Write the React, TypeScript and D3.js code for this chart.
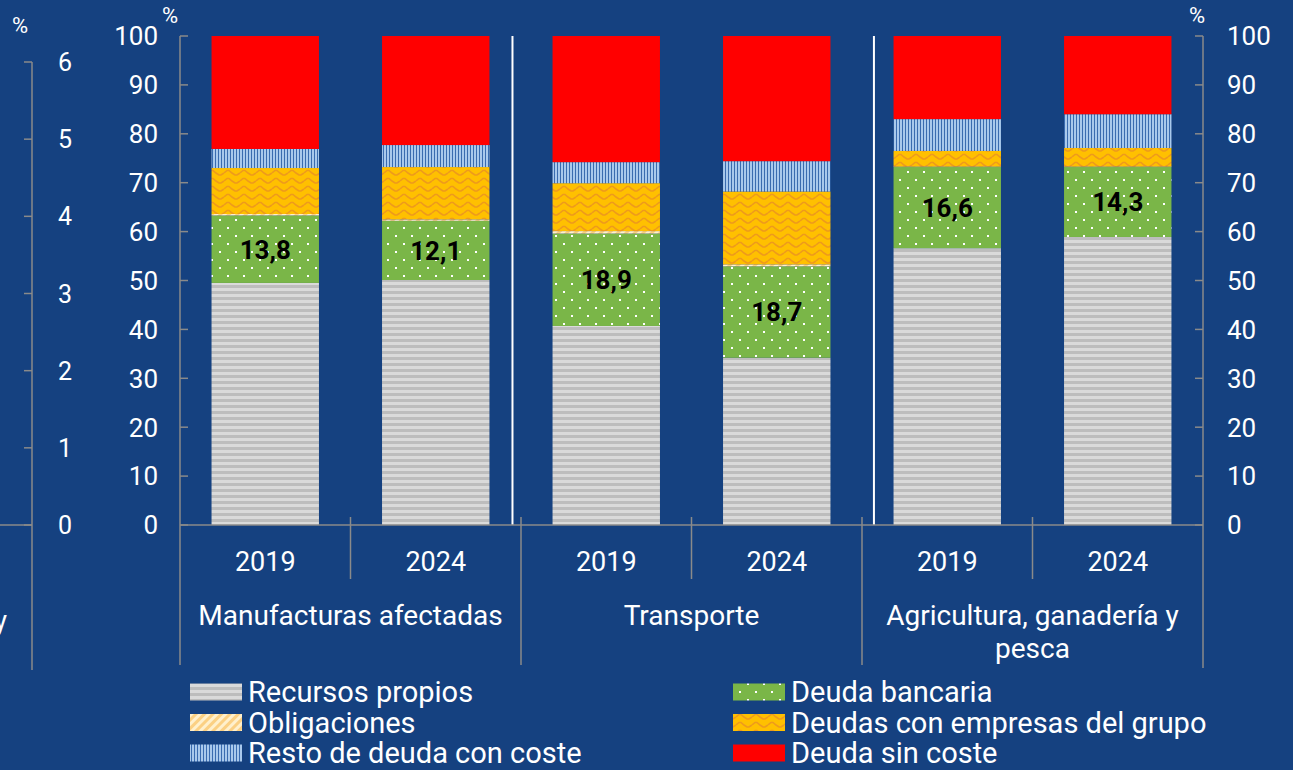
import React from "react";
import * as d3 from "d3";

const categories = ["M2019", "M2024", "T2019", "T2024", "A2019", "A2024"];
const yearLabels = ["2019", "2024", "2019", "2024", "2019", "2024"];
const groupLabels = [["Manufacturas afectadas"], ["Transporte"], ["Agricultura, ganadería y", "pesca"]];

const recursosPropios = [49.5, 50.1, 40.7, 34.2, 56.6, 58.9];
const deudaBancaria = [13.8, 12.1, 18.9, 18.7, 16.6, 14.3];
const obligaciones = [0.3, 0.3, 0.5, 0.4, 0.1, 0.1];
const deudasGrupo = [9.4, 10.7, 9.8, 14.9, 3.2, 3.8];
const restoDeuda = [3.9, 4.5, 4.3, 6.2, 6.5, 6.9];
const deudaSinCoste = [23.1, 22.3, 25.8, 25.6, 17.0, 16.0];

const bancariaLabels = ["13,8", "12,1", "18,9", "18,7", "16,6", "14,3"];

const yTicks = [0, 10, 20, 30, 40, 50, 60, 70, 80, 90, 100];
const leftChartTicks = [0, 1, 2, 3, 4, 5, 6];
const separatorPositions = [1.95, 4.07];

const seriesKeys = ["recursos", "bancaria", "oblig", "grupo", "resto", "sincoste"];
const seriesNames = [
  "Recursos propios",
  "Deuda bancaria",
  "Obligaciones",
  "Deudas con empresas del grupo",
  "Resto de deuda con coste",
  "Deuda sin coste",
];
const seriesFills = [
  "url(#pat-recursos)",
  "url(#pat-bancaria)",
  "url(#pat-oblig)",
  "url(#pat-grupo)",
  "url(#pat-resto)",
  "#ff0000",
];
const legendOrder = [0, 2, 4, 1, 3, 5];

const W = 1293;
const H = 770;
const BG = "#154180";
const AXIS = "#8a8a8a";
const FONT = "Roboto, 'Noto Sans', sans-serif";

export default function App() {
  const x0 = 180;
  const x1 = 1203;
  const yTop = 36;
  const yBot = 525;

  const y = d3.scaleLinear().domain([0, 100]).range([yBot, yTop]);
  const xBand = d3.scaleBand().domain(categories).range([x0, x1]).paddingInner(0.37).paddingOuter(0.185);
  const xIdx = d3.scaleLinear().domain([0, categories.length]).range([x0, x1]);
  const yLeft = d3.scaleLinear().domain([0, 6]).range([yBot, 62]);

  const table = categories.map((c, i) => ({
    cat: c,
    recursos: recursosPropios[i],
    bancaria: deudaBancaria[i],
    oblig: obligaciones[i],
    grupo: deudasGrupo[i],
    resto: restoDeuda[i],
    sincoste: deudaSinCoste[i],
  }));
  const stacked = d3.stack().keys(seriesKeys)(table as any);

  const groupBounds = [0, 2, 4, 6];

  return (
    <svg
      width={W}
      height={H}
      style={{ position: "fixed", left: 0, top: 0, display: "block" }}
      fontFamily={FONT}
    >
      <defs>
        <pattern id="pat-recursos" width="6" height="6" patternUnits="userSpaceOnUse">
          <rect width="6" height="6" fill="#dadada" />
          <rect y="3" width="6" height="3" fill="#bdbdbd" />
        </pattern>
        <pattern id="pat-bancaria" width="16" height="16" patternUnits="userSpaceOnUse">
          <rect width="16" height="16" fill="#7ab648" />
          <rect x="3" y="3" width="2" height="2" fill="#ffffff" />
          <rect x="11" y="11" width="2" height="2" fill="#ffffff" />
        </pattern>
        <pattern id="pat-oblig" width="6" height="6" patternUnits="userSpaceOnUse" patternTransform="rotate(45)">
          <rect width="6" height="6" fill="#fff0cc" />
          <rect width="3" height="6" fill="#fbd083" />
        </pattern>
        <pattern id="pat-grupo" width="16" height="8" patternUnits="userSpaceOnUse">
          <rect width="16" height="8" fill="#ffc000" />
          <path d="M0,5 L3,2.5 L5,2.5 L8,5 L11,7 L13,7 L16,5" fill="none" stroke="#ee9a1c" strokeWidth="1.6" />
        </pattern>
        <pattern id="pat-resto" width="3" height="3" patternUnits="userSpaceOnUse">
          <rect width="3" height="3" fill="#a9c9ec" />
          <rect x="2" width="1" height="3" fill="#3a6cb0" />
        </pattern>
      </defs>

      <rect width={W} height={H} fill={BG} />

      {/* Partial chart on the left */}
      <text x={20} y={33} fill="#fff" fontSize={22} textAnchor="middle">%</text>
      <line x1={32} x2={32} y1={yLeft(6)} y2={670} stroke={AXIS} strokeWidth={1.5} />
      <line x1={0} x2={32} y1={yBot} y2={yBot} stroke={AXIS} strokeWidth={1.5} />
      {leftChartTicks.map((t) => (
        <g key={"lt" + t}>
          <line x1={24} x2={32} y1={yLeft(t)} y2={yLeft(t)} stroke={AXIS} strokeWidth={1.5} />
          <text x={65} y={yLeft(t)} dy="0.36em" fill="#fff" fontSize={25} textAnchor="middle">
            {t}
          </text>
        </g>
      ))}
      <text x={7} y={620} dy="0.36em" fill="#fff" fontSize={27} textAnchor="end">y</text>

      {/* Bars */}
      {stacked.map((s, si) => (
        <g key={seriesKeys[si]}>
          {s.map((d, i) => {
            const h = y(d[0]) - y(d[1]);
            if (h <= 0) return null;
            return (
              <rect
                key={i}
                x={xBand(categories[i])}
                y={y(d[1])}
                width={xBand.bandwidth()}
                height={h}
                fill={seriesFills[si]}
              />
            );
          })}
        </g>
      ))}

      {/* value labels on Deuda bancaria */}
      {stacked[1].map((d, i) => (
        <text
          key={"vl" + i}
          x={(xBand(categories[i]) as number) + xBand.bandwidth() / 2}
          y={(y(d[0]) + y(d[1])) / 2}
          dy="0.36em"
          fontSize={26}
          fontWeight="bold"
          fill="#000"
          textAnchor="middle"
        >
          {bancariaLabels[i]}
        </text>
      ))}

      {/* white separators */}
      {separatorPositions.map((p, i) => (
        <line key={"sep" + i} x1={xIdx(p)} x2={xIdx(p)} y1={yTop} y2={yBot} stroke="#fff" strokeWidth={2} />
      ))}

      {/* Axes */}
      <line x1={x0} x2={x1} y1={yBot} y2={yBot} stroke={AXIS} strokeWidth={1.5} />
      <line x1={x0} x2={x0} y1={yTop} y2={665} stroke={AXIS} strokeWidth={1.5} />
      <line x1={x1} x2={x1} y1={yTop} y2={668} stroke={AXIS} strokeWidth={1.5} />
      {yTicks.map((t) => (
        <g key={"yt" + t}>
          <line x1={x0} x2={x0 + 8} y1={y(t)} y2={y(t)} stroke={AXIS} strokeWidth={1.5} />
          <line x1={x1 - 8} x2={x1} y1={y(t)} y2={y(t)} stroke={AXIS} strokeWidth={1.5} />
          <text x={x0 - 22} y={y(t)} dy="0.36em" fill="#fff" fontSize={26} textAnchor="end">
            {t}
          </text>
          <text x={x1 + 24} y={y(t)} dy="0.36em" fill="#fff" fontSize={26} textAnchor="start">
            {t}
          </text>
        </g>
      ))}
      <text x={170} y={15} dy="0.36em" fill="#fff" fontSize={22} textAnchor="middle">%</text>
      <text x={1197} y={15} dy="0.36em" fill="#fff" fontSize={22} textAnchor="middle">%</text>

      {/* category separators */}
      {d3.range(1, categories.length).map((k) => {
        const isGroup = groupBounds.includes(k);
        return (
          <line
            key={"cs" + k}
            x1={xIdx(k)}
            x2={xIdx(k)}
            y1={517}
            y2={isGroup ? 665 : 579}
            stroke={AXIS}
            strokeWidth={1.5}
          />
        );
      })}

      {/* year labels */}
      {categories.map((c, i) => (
        <text
          key={"yl" + i}
          x={(xBand(c) as number) + xBand.bandwidth() / 2}
          y={561}
          dy="0.36em"
          fill="#fff"
          fontSize={27}
          textAnchor="middle"
        >
          {yearLabels[i]}
        </text>
      ))}

      {/* group labels */}
      {groupLabels.map((lines, gi) => (
        <text
          key={"gl" + gi}
          x={(xIdx(groupBounds[gi]) + xIdx(groupBounds[gi + 1])) / 2}
          y={615}
          fill="#fff"
          fontSize={28}
          textAnchor="middle"
        >
          {lines.map((ln, li) => (
            <tspan key={li} x={(xIdx(groupBounds[gi]) + xIdx(groupBounds[gi + 1])) / 2} y={615 + li * 33} dy="0.36em">
              {ln}
            </tspan>
          ))}
        </text>
      ))}

      {/* legend */}
      {legendOrder.map((si, k) => {
        const col = Math.floor(k / 3);
        const row = k % 3;
        const sx = col === 0 ? 190 : 733;
        const cy = 692 + row * 30.5;
        return (
          <g key={"lg" + si}>
            <rect x={sx} y={cy - 8.5} width={52} height={17} fill={seriesFills[si]} />
            <text x={sx + 58} y={cy} dy="0.36em" fill="#fff" fontSize={29}>
              {seriesNames[si]}
            </text>
          </g>
        );
      })}
    </svg>
  );
}
